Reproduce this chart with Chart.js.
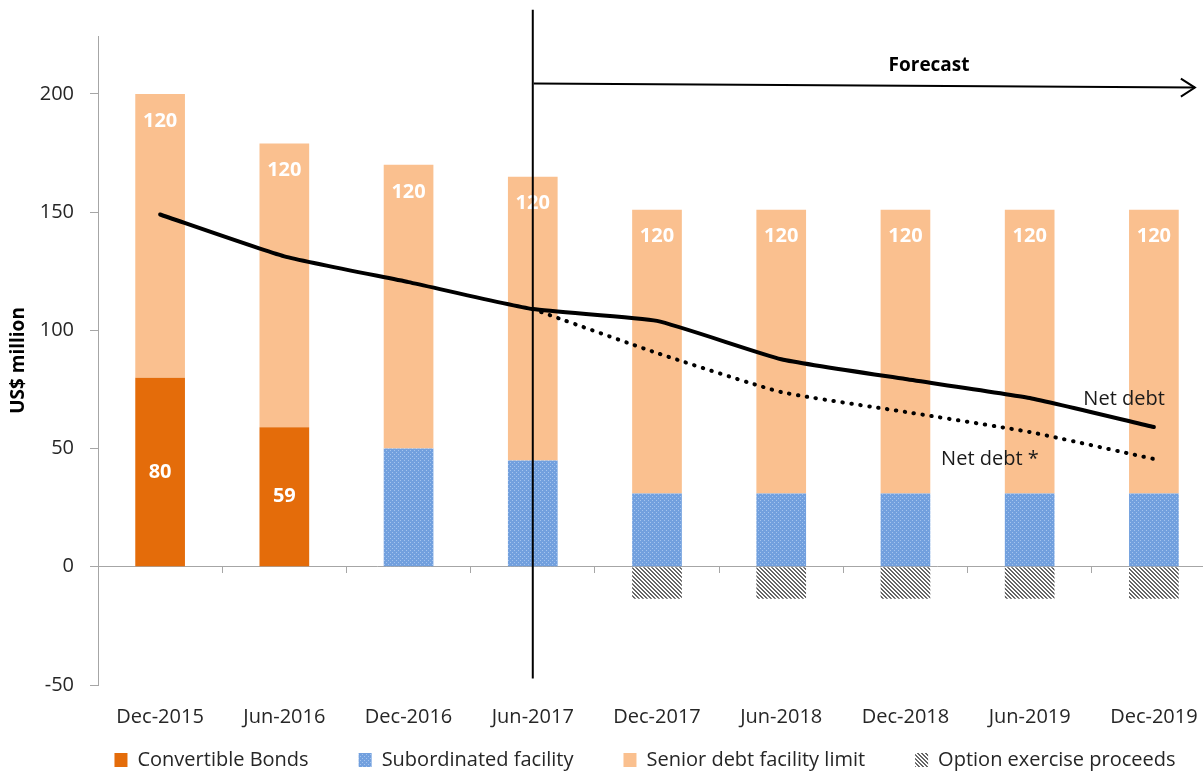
<!DOCTYPE html>
<html lang="en">
<head>
  <meta charset="UTF-8" />
  <title>Debt facilities and net debt</title>
  <script src="https://cdn.jsdelivr.net/npm/chart.js"></script>
  <style>
    html, body {
      margin: 0;
      padding: 0;
      background: #fff;
      overflow: hidden;
    }
    canvas {
      display: block;
    }
  </style>
</head>
<body>
  <canvas id="debtChart" width="1230" height="780"></canvas>

  <script>
    // data (US$ million)
    const periods = ['Dec-2015', 'Jun-2016', 'Dec-2016', 'Jun-2017', 'Dec-2017', 'Jun-2018', 'Dec-2018', 'Jun-2019', 'Dec-2019'];
    const convertibleBonds = [80, 59, null, null, null, null, null, null, null];
    const subordinatedFacility = [null, null, 50, 45, 31, 31, 31, 31, 31];
    const seniorDebtLimit = [120, 120, 120, 120, 120, 120, 120, 120, 120];
    const optionProceeds = [null, null, null, null, -13.5, -13.5, -13.5, -13.5, -13.5];
    const netDebt = [149, 131.3, 120.4, 109, 104, 87.8, 79.4, 71.4, 59.1];
    const netDebtStar = [null, null, null, 109, 90.4, 73.9, 65.5, 57, 45.6];
    const yTicks = [-50, 0, 50, 100, 150, 200];

    // annotation placement, in axis units (category index / US$ million)
    const forecastStart = 3;
    const forecastEnd = 8.33;

    Chart.defaults.font.family = '"Open Sans", sans-serif';
    Chart.defaults.color = '#262626';

    function dotPattern() {
      const c = document.createElement('canvas');
      c.width = 4;
      c.height = 4;
      const g = c.getContext('2d');
      g.fillStyle = '#72a0de';
      g.fillRect(0, 0, 4, 4);
      g.fillStyle = '#a4c4ee';
      g.fillRect(0, 0, 1, 1);
      g.fillRect(2, 2, 1, 1);
      return g.createPattern(c, 'repeat');
    }

    function hatchPattern() {
      const c = document.createElement('canvas');
      c.width = 4;
      c.height = 4;
      const g = c.getContext('2d');
      g.fillStyle = '#fff';
      g.fillRect(0, 0, 4, 4);
      g.fillStyle = '#666';
      for (let x = 0; x < 4; x++) {
        for (let y = 0; y < 4; y++) {
          if ((x - y + 4) % 4 < 2) g.fillRect(x, y, 1, 1);
        }
      }
      return g.createPattern(c, 'repeat');
    }

    // white value labels inside the bars
    const barLabels = {
      id: 'barLabels',
      afterDatasetsDraw(chart) {
        const ctx = chart.ctx;
        ctx.save();
        ctx.fillStyle = '#fff';
        ctx.font = 'bold 20px "Open Sans", sans-serif';
        ctx.textAlign = 'center';
        ctx.textBaseline = 'middle';
        chart.data.datasets.forEach((ds, i) => {
          if (!ds.valueLabel) return;
          chart.getDatasetMeta(i).data.forEach((bar, j) => {
            const v = ds.data[j];
            if (v === null) return;
            const y = ds.valueLabel === 'top' ? bar.y + 27 : (bar.y + bar.base) / 2;
            ctx.fillText(String(v), bar.x, y);
          });
        });
        ctx.restore();
      }
    };

    // forecast divider, arrow and line captions
    const annotations = {
      id: 'annotations',
      afterDatasetsDraw(chart) {
        const ctx = chart.ctx;
        const xs = chart.scales.x;
        const ys = chart.scales.y;
        const x0 = xs.getPixelForValue(forecastStart);
        ctx.save();
        ctx.strokeStyle = '#000';
        ctx.lineWidth = 2;

        ctx.beginPath();
        ctx.moveTo(x0, ys.getPixelForValue(235.6));
        ctx.lineTo(x0, ys.getPixelForValue(-47.3));
        ctx.stroke();

        const ax0 = x0 + 1;
        const ay0 = ys.getPixelForValue(204.4);
        const ax1 = xs.getPixelForValue(forecastEnd);
        const ay1 = ys.getPixelForValue(202.7);
        ctx.beginPath();
        ctx.moveTo(ax0, ay0);
        ctx.lineTo(ax1, ay1);
        ctx.stroke();
        ctx.beginPath();
        ctx.moveTo(ax1 - 14, ay1 - 9);
        ctx.lineTo(ax1, ay1);
        ctx.lineTo(ax1 - 14, ay1 + 9);
        ctx.stroke();

        ctx.fillStyle = '#000';
        ctx.textAlign = 'center';
        ctx.textBaseline = 'middle';
        ctx.font = 'bold 19px "Open Sans", sans-serif';
        ctx.fillText('Forecast', xs.getPixelForValue(6.19), ys.getPixelForValue(212));

        ctx.fillStyle = '#1a1a1a';
        ctx.font = '20px "Open Sans", sans-serif';
        ctx.fillText('Net debt', xs.getPixelForValue(7.76), ys.getPixelForValue(70.9));
        ctx.fillText('Net debt *', xs.getPixelForValue(6.68), ys.getPixelForValue(45.6));
        ctx.restore();
      }
    };

    // the reference legend is centred a little right of the canvas centre
    const legendShift = {
      id: 'legendShift',
      afterLayout(chart) {
        const lg = chart.legend;
        if (!lg) return;
        const d = 660 - (lg.left + lg.right) / 2;
        lg.left += d;
        lg.right += d;
      }
    };

    const legendGap = '\u2002\u2002\u2002';

    new Chart(document.getElementById('debtChart'), {
      type: 'bar',
      data: {
        labels: periods,
        datasets: [
          {
            type: 'line',
            label: 'Net debt',
            data: netDebt,
            stack: 'netDebt',
            borderColor: '#000',
            borderWidth: 4,
            borderCapStyle: 'round',
            borderJoinStyle: 'round',
            pointRadius: 0,
            tension: 0.15,
            order: 0
          },
          {
            type: 'line',
            label: 'Net debt *',
            data: netDebtStar,
            stack: 'netDebtStar',
            borderColor: '#000',
            borderWidth: 4,
            borderDash: [0.5, 8.5],
            borderCapStyle: 'round',
            pointRadius: 0,
            tension: 0.15,
            order: 0
          },
          {
            label: 'Convertible Bonds',
            data: convertibleBonds,
            stack: 'facilities',
            backgroundColor: '#e46c0a',
            valueLabel: 'middle',
            order: 1
          },
          {
            label: 'Subordinated facility',
            data: subordinatedFacility,
            stack: 'facilities',
            backgroundColor: dotPattern(),
            order: 1
          },
          {
            label: 'Senior debt facility limit',
            data: seniorDebtLimit,
            stack: 'facilities',
            backgroundColor: '#fac08f',
            valueLabel: 'top',
            order: 1
          },
          {
            label: 'Option exercise proceeds',
            data: optionProceeds,
            stack: 'facilities',
            backgroundColor: hatchPattern(),
            order: 1
          }
        ]
      },
      options: {
        responsive: false,
        animation: false,
        barPercentage: 0.4,
        categoryPercentage: 1,
        layout: {
          padding: { top: 36, left: 7, right: 14, bottom: 0 }
        },
        scales: {
          x: {
            stacked: true,
            offset: true,
            grid: { display: false, drawTicks: false },
            border: { display: false },
            ticks: { padding: 20, font: { size: 20 }, maxRotation: 0, autoSkip: false },
            afterFit: axis => { axis.height = 45; }
          },
          xZero: {
            axis: 'x',
            type: 'category',
            position: { y: 0 },
            offset: true,
            grid: { drawOnChartArea: false, tickLength: 6, color: '#a6a6a6', offset: true },
            border: { color: '#a6a6a6' },
            ticks: { display: false }
          },
          y: {
            stacked: true,
            min: -50,
            max: 224.5,
            afterBuildTicks: axis => { axis.ticks = yTicks.map(v => ({ value: v })); },
            afterFit: axis => { axis.width = 91; },
            grid: { drawOnChartArea: false, tickLength: 8, color: '#a6a6a6' },
            border: { color: '#a6a6a6' },
            ticks: { padding: 16, font: { size: 20 } },
            title: {
              display: true,
              text: 'US$ million',
              color: '#000',
              font: { size: 19, weight: 'bold' },
              padding: { top: 0, bottom: 0 }
            }
          }
        },
        plugins: {
          legend: {
            position: 'bottom',
            labels: {
              generateLabels: chart => {
                const items = Chart.defaults.plugins.legend.labels.generateLabels(chart);
                return items
                  .filter(item => chart.data.datasets[item.datasetIndex].type !== 'line')
                  .map(item => Object.assign(item, { text: item.text + legendGap }));
              },
              boxWidth: 13,
              boxHeight: 14,
              padding: 20,
              font: { size: 20 }
            }
          },
          tooltip: { enabled: false }
        }
      },
      plugins: [barLabels, annotations, legendShift]
    });
  </script>
</body>
</html>
